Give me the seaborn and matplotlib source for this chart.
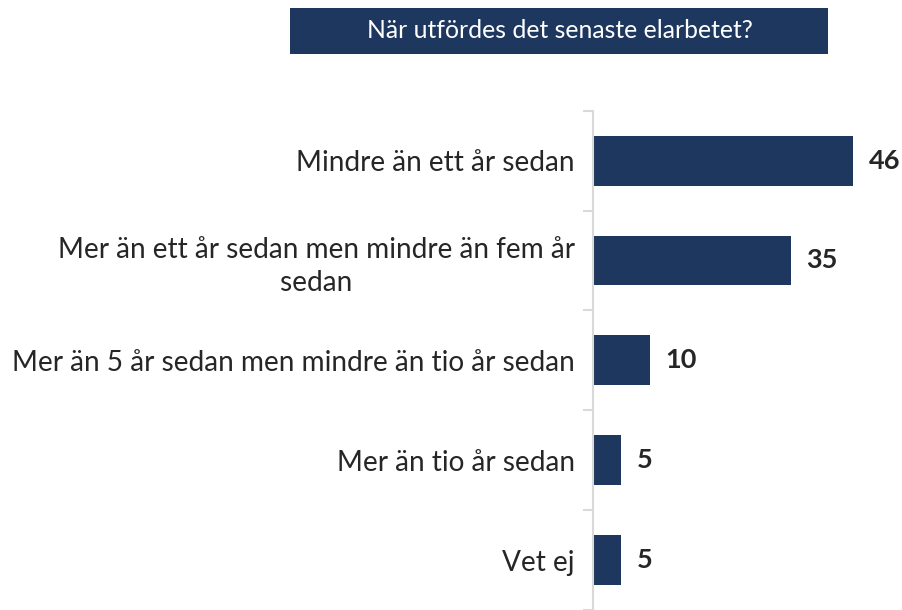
import matplotlib
matplotlib.use("Agg")
import matplotlib.pyplot as plt
from matplotlib.patches import Rectangle
import seaborn as sns

# Data
categories = [
    "Mindre än ett år sedan",
    "Mer än ett år sedan men mindre än fem år\nsedan",
    "Mer än 5 år sedan men mindre än tio år sedan",
    "Mer än tio år sedan",
    "Vet ej",
]
values = [46, 35, 10, 5, 5]
title = "När utfördes det senaste elarbetet?"

NAVY = "#1D375E"
TEXT = "#262626"
GRID = "#D9D9D9"

sns.set_theme(style="white")
plt.rcParams["font.family"] = ["Lato", "DejaVu Sans"]

W, H = 903, 610
fig = plt.figure(figsize=(W / 100, H / 100), dpi=100)
ax = fig.add_axes([593 / W, 0.0, 283 / W, 1 - 110.7 / H])

sns.barplot(x=values, y=categories, orient="h", color=NAVY, width=0.5,
            saturation=1, ax=ax)
for p in ax.patches:
    p.set_edgecolor("none")

ax.set_xlim(0, 50)
ax.set_ylim(4.5, -0.5)
ax.set_xlabel("")
ax.set_ylabel("")
ax.set_xticks([])

for side in ["top", "right", "bottom"]:
    ax.spines[side].set_visible(False)
ax.spines["left"].set_color(GRID)
ax.spines["left"].set_linewidth(1.5)

# category boundaries as small ticks
ax.set_yticks([i - 0.5 for i in range(len(categories) + 1)], minor=True)
ax.tick_params(axis="y", which="minor", length=7, width=1.5, color=GRID, left=True)
ax.tick_params(axis="y", which="major", length=0, pad=13, labelsize=20.2, labelcolor=TEXT)
for lbl in ax.get_yticklabels():
    lbl.set_multialignment("center")
    lbl.set_linespacing(1.32)

ax.bar_label(ax.containers[0], padding=11, fontsize=19.5, fontweight="bold",
             color=TEXT, clip_on=False)

# title box
fig.patches.append(Rectangle((290 / W, 1 - 54 / H), 538 / W, 46 / H,
                             transform=fig.transFigure, facecolor=NAVY,
                             edgecolor="none"))
fig.text(560 / W, 1 - 31 / H, title, ha="center", va="center",
         color="white", fontsize=17.8)

fig.savefig("out.png", dpi=100)
